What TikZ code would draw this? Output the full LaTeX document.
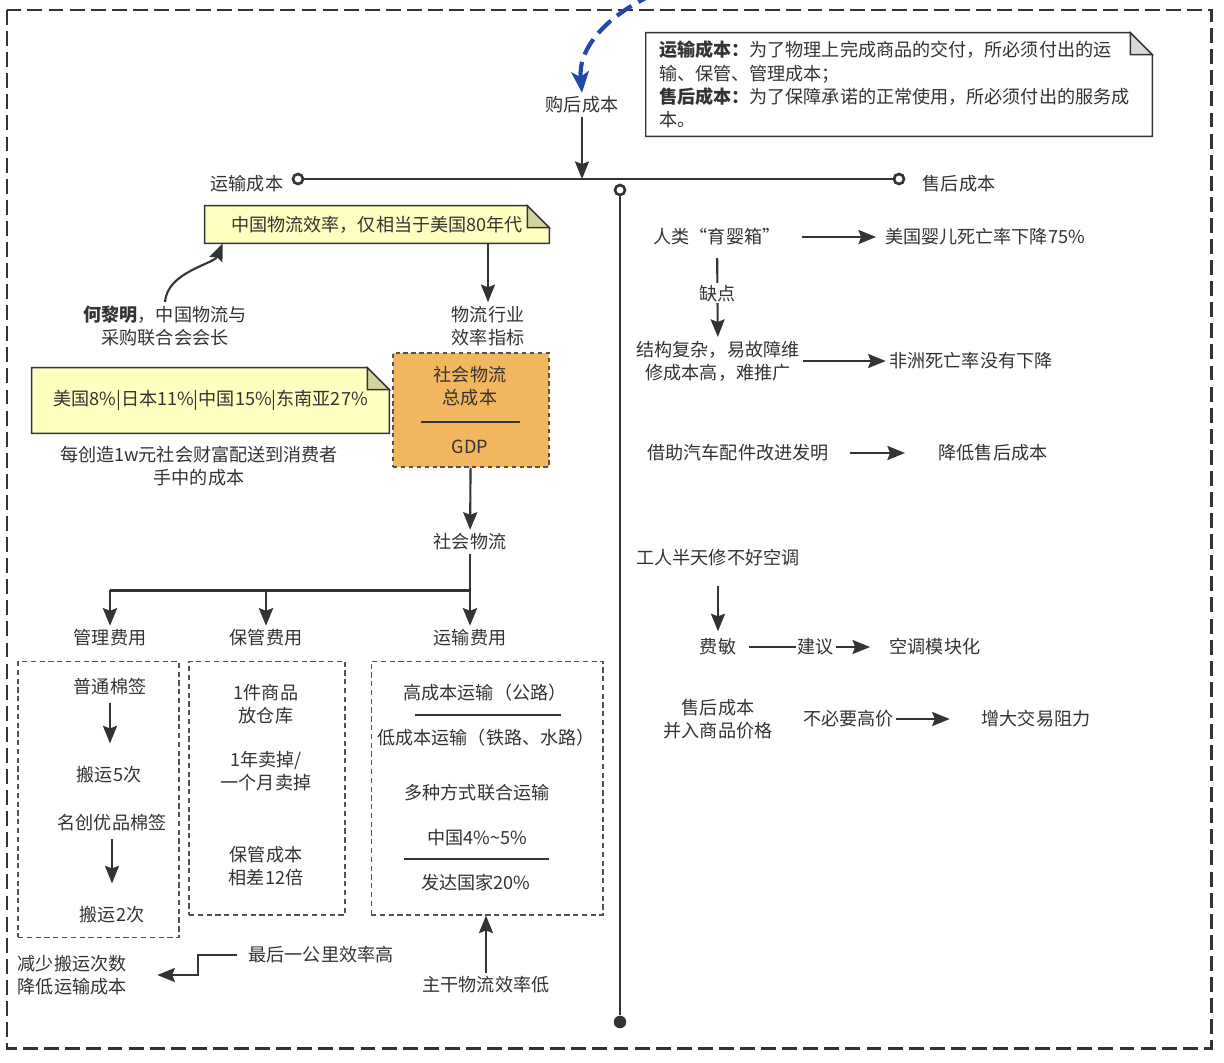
\documentclass[tikz,border=0pt]{standalone}
\usepackage{fontspec}
\setmainfont{Noto Sans CJK SC}
\usetikzlibrary{arrows.meta,backgrounds}

\definecolor{ink}{HTML}{333333}
\definecolor{notey}{HTML}{FFFFC0}
\definecolor{foldy}{HTML}{D3D39E}
\definecolor{foldg}{HTML}{D9D9D9}
\definecolor{orangefill}{HTML}{F2B75E}
\definecolor{bluecurve}{HTML}{2249A8}

\tikzset{
  txt/.style={text=ink, font=\fontsize{10.3}{13.2}\selectfont, align=center, inner sep=2pt},
  ln/.style={draw=ink, line width=1.2pt},
  arr/.style={ln, -{Stealth[length=10pt,width=8pt,inset=1.5pt]}},
  bigarr/.style={arr, line width=1.7pt},
  spine/.style={draw=ink, line width=1.7pt},
  rule/.style={draw=ink, line width=0.9pt},
  ring/.style={circle, draw=ink, line width=1.5pt, fill=white, minimum size=0.2cm, inner sep=0pt},
  dot/.style={circle, fill=ink, minimum size=0.25cm, inner sep=0pt},
  frame/.style={draw=ink, line width=1.7pt, dash pattern=on 8.5pt off 3.5pt},
  dashbox/.style={draw=ink!85, line width=0.6pt, dash pattern=on 3pt off 2pt},
  costbox/.style={fill=orangefill, draw=ink!85, line width=0.7pt, dash pattern=on 2.5pt off 2pt},
  yellownote/.style={draw=ink, line width=0.8pt, fill=notey},
  yellowfold/.style={draw=ink, line width=0.8pt, fill=foldy},
  whitenote/.style={draw=ink, line width=0.8pt, fill=white},
  greyfold/.style={draw=ink, line width=0.8pt, fill=foldg},
  bluecurve/.style={draw=bluecurve, line width=2.4pt, dash pattern=on 10pt off 4.5pt,
    -{Stealth[length=12pt,width=10pt,inset=3pt]}},
  lbl/.style={fill=white, inner sep=1pt}
}

\begin{document}
\begin{tikzpicture}[x=0.02cm,y=-0.02cm,every node/.style={txt}]
  \useasboundingbox (0,0) rectangle (1224,1062);
  \begin{scope}[on background layer]
    \fill[white] (0,0) rectangle (1224,1062);
  \end{scope}
  \draw[frame] (7,10) rectangle (1211,1048);

  % spine
  \node (buy) at (582,105) {购后成本};
  \coordinate (bluefrom) at (654,-6);
  \draw[bluecurve] (bluefrom) .. controls (606,16) and (578,48) .. (buy.north);
  \node[ring] (tl) at (298,179) {};
  \node[ring] (tr) at (899,179) {};
  \node[anchor=east] (transcost) at (287,184) {运输成本};
  \node[anchor=west] (aftercost) at (919,184) {售后成本};
  \draw[spine] (tl) -- (tr);
  \draw[arr] (buy) -- (buy |- tl);
  \node[ring] (vt) at (620,190) {};
  \node[dot] (vb) at (620,1022) {};
  \draw[ln, line width=1.4pt] (vt) -- (vb);

  % definitions
  \node[minimum width=10.12cm, minimum height=2.06cm, text width=9.6cm, align=left] (defnote) at (899,84.5)
    {\textbf{运输成本：}为了物理上完成商品的交付，所必须付出的运\\输、保管、管理成本；\\\textbf{售后成本：}为了保障承诺的正常使用，所必须付出的服务成\\本。};
  \begin{scope}[on background layer]
    \draw[whitenote] (defnote.south west) -- (defnote.north west) -- ([xshift=-0.44cm]defnote.north east)
      -- ([yshift=-0.44cm]defnote.north east) -- (defnote.south east) -- cycle;
    \draw[greyfold] ([xshift=-0.44cm]defnote.north east) -- ([xshift=-0.44cm,yshift=-0.44cm]defnote.north east)
      -- ([yshift=-0.44cm]defnote.north east) -- cycle;
  \end{scope}

  % left: logistics
  \node[minimum width=6.88cm, minimum height=0.74cm] (effnote) at (377,224.5) {中国物流效率，仅相当于美国80年代};
  \node[minimum width=7.14cm, minimum height=1.3cm] (ratenote) at (210.5,400.5) {美国8\%|日本11\%|中国15\%|东南亚27\%};
  \begin{scope}[on background layer]
    \foreach \n in {effnote,ratenote} {
      \draw[yellownote] (\n.south west) -- (\n.north west) -- ([xshift=-0.44cm]\n.north east)
        -- ([yshift=-0.44cm]\n.north east) -- (\n.south east) -- cycle;
      \draw[yellowfold] ([xshift=-0.44cm]\n.north east) -- ([xshift=-0.44cm,yshift=-0.44cm]\n.north east)
        -- ([yshift=-0.44cm]\n.north east) -- cycle;
    }
  \end{scope}

  \node (helim) at (165,326) {\textbf{何黎明}，中国物流与\\采购联合会会长};
  \node (wuliu) at (488,326) {物流行业\\效率指标};
  \node (percost) at (199,466) {每创造1w元社会财富配送到消费者\\手中的成本};
  \draw[arr] (helim.north) .. controls (167,272) and (214,264) .. ([xshift=0.36cm]effnote.south west);
  \draw[arr] (effnote.south -| wuliu) -- (wuliu);

  \node[costbox, minimum width=3.12cm, minimum height=2.28cm] (totcost) at (471,410) {};
  \node (totname) at (470,386.5) {社会物流\\总成本};
  \node (gdp) at (470,447) {GDP};
  \draw[rule] (421,422) -- (520,422);

  \node (shwl) at (470,542) {社会物流};
  \draw[arr] (totcost) -- (shwl);

  \node (mgmt) at (110,638) {管理费用};
  \node (store) at (266,638) {保管费用};
  \node (trans) at (470,638) {运输费用};
  \coordinate (fork) at (470,590);
  \draw[spine] (shwl) -- (fork) -- (fork -| mgmt);
  \foreach \t in {mgmt,store,trans}
    \draw[bigarr] (fork -| \t) -- (\t);

  \node[dashbox, minimum width=3.22cm, minimum height=5.52cm] (mgmtbox) at (98.5,799.5) {};
  \node[dashbox, minimum width=3.12cm, minimum height=5.08cm] (storebox) at (267,788) {};
  \node[dashbox, minimum width=4.64cm, minimum height=5.08cm] (transbox) at (487,788) {};

  \node (pt) at (110,687) {普通棉签};
  \node (by5) at (109,775) {搬运5次};
  \node (mc) at (112,823) {名创优品棉签};
  \node (by2) at (112,915) {搬运2次};
  \draw[arr, shorten <=2pt, shorten >=11pt] (pt) -- (pt |- by5.north);
  \draw[arr, shorten <=2pt, shorten >=11pt] (mc) -- (mc |- by2.north);

  \node (item) at (266,704) {1件商品\\放仓库};
  \node (sell) at (266,771) {1年卖掉/\\一个月卖掉};
  \node (keep) at (266,866) {保管成本\\相差12倍};

  \node (road) at (485,693) {高成本运输（公路）};
  \node (rail) at (486,738) {低成本运输（铁路、水路）};
  \draw[rule] (415,715) -- (561,715);
  \node (multi) at (477,793) {多种方式联合运输};
  \node (cn) at (477,838) {中国4\%\textasciitilde5\%};
  \node (dev) at (476,883) {发达国家20\%};
  \draw[rule] (404,859) -- (549,859);

  \node (mainlow) at (486,985) {主干物流效率低};
  \draw[arr] (mainlow) -- (mainlow |- transbox.south);
  \node (lastmile) at (321,955) {最后一公里效率高};
  \node[anchor=west, align=left] (reduce) at (14,975) {减少搬运次数\\降低运输成本};
  \draw[arr] ([xshift=-0.15cm]lastmile.west) -- ++(-39,0) |- ([xshift=0.54cm]reduce.east);

  % right: after-sale
  \node (incub) at (717,237) {人类“育婴箱”};
  \node (usdrop) at (985,237) {美国婴儿死亡率下降75\%};
  \node (flaw) at (718,361) {结构复杂，易故障维\\修成本高，难推广};
  \node (africa) at (971,361) {非洲死亡率没有下降};
  \draw[arr, shorten <=10pt, shorten >=3pt] (incub) -- (usdrop);
  \draw[arr, shorten <=5pt] (incub) -- node[lbl] {缺点} (flaw);
  \draw[arr] (flaw) -- (africa);

  \node (invent) at (738,453) {借助汽车配件改进发明};
  \node (lowafter) at (993,453) {降低售后成本};
  \draw[arr, shorten <=10pt, shorten >=17pt] (invent) -- (lowafter);

  \node (repair) at (718,558) {工人半天修不好空调};
  \node (feimin) at (718,647) {费敏};
  \node (modular) at (935,647) {空调模块化};
  \draw[arr, shorten <=9pt, shorten >=2pt] (repair) -- (feimin);
  \draw[arr, shorten <=5pt, shorten >=9pt] (feimin) -- node[lbl, pos=0.52] {建议} (modular);

  \node (merge) at (718,719) {售后成本\\并入商品价格};
  \node (friction) at (1036,719) {增大交易阻力};
  \draw[arr, shorten <=15pt, shorten >=16pt] (merge) -- node[lbl, pos=0.36] {不必要高价} (friction);
\end{tikzpicture}
\end{document}
